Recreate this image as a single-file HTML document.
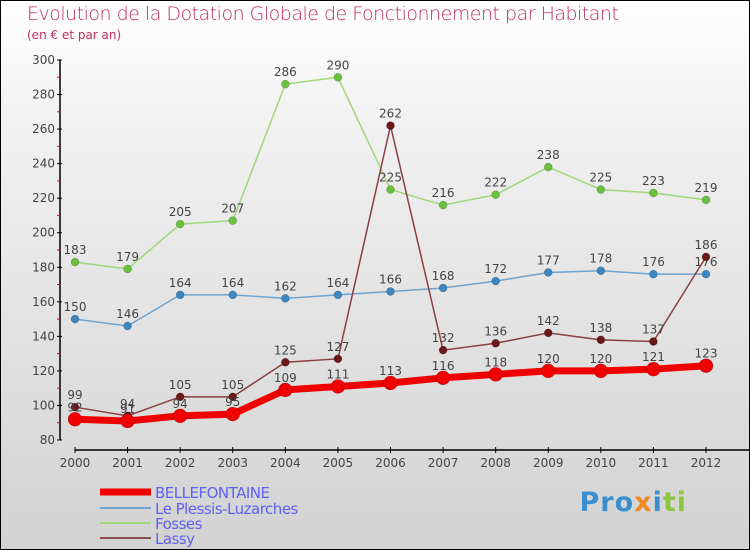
<!DOCTYPE html>
<html><head><meta charset="utf-8"><style>
body{margin:0}
#wrap{position:relative;width:750px;height:550px;box-sizing:border-box;border:1px solid #000;background:linear-gradient(#ffffff,#f2f2f2 20%,#d2d2d2);overflow:hidden;font-family:"DejaVu Sans","Liberation Sans",sans-serif}
.t{position:absolute;color:#c0305a}
</style></head><body>
<div id="wrap">
<div class="t" style="left:26px;top:2px;font-size:19px;letter-spacing:-0.5px;font-weight:200">Evolution de la Dotation Globale de Fonctionnement par Habitant</div>
<div class="t" style="left:26px;top:27px;font-size:12px">(en € et par an)</div>
<svg id="svg" width="750" height="550" style="position:absolute;left:-1px;top:-1px"></svg>
<div style="position:absolute;right:62px;top:486px;font-size:27px;font-weight:bold;letter-spacing:1px"><span style="color:#3a8fd0">Pro</span><span style="color:#f08a20">x</span><span style="color:#3a8fd0">i</span><span style="color:#8cc63f">ti</span></div>
</div>
<script>
const years=[2000,2001,2002,2003,2004,2005,2006,2007,2008,2009,2010,2011,2012];
const yTicks=[80,100,120,140,160,180,200,220,240,260,280,300];
const belle=[92,91,94,95,109,111,113,116,118,120,120,121,123];
const plessis=[150,146,164,164,162,164,166,168,172,177,178,176,176];
const fosses=[183,179,205,207,286,290,225,216,222,238,225,223,219];
const lassy=[99,94,105,105,125,127,262,132,136,142,138,137,186];
const svg=document.getElementById('svg');const NS='http://www.w3.org/2000/svg';
const X=i=>75+i*(706-75)/12;const Y=v=>440-(v-80)*(380/220);
function mk(t,a,p){const e=document.createElementNS(NS,t);for(const k in a)e.setAttribute(k,a[k]);(p||svg).appendChild(e);return e;}
let ax=mk('line',{x1:60,y1:60,x2:60,y2:440,stroke:'#000','stroke-width':1.5});


let xa=mk('line',{x1:75,y1:450,x2:750,y2:450,stroke:'#000','stroke-width':1.5});


yTicks.forEach(v=>{mk('line',{x1:57,x2:62,y1:Y(v),y2:Y(v),stroke:'#000'});if(v<300)mk('line',{x1:57,x2:60,y1:Y(v+10),y2:Y(v+10),stroke:'#f00'});
const t=mk('text',{x:55,y:Y(v)+4,'text-anchor':'end','font-size':12,fill:'#444'});t.textContent=v;

});
years.forEach((y,i)=>{mk('line',{x1:X(i),x2:X(i),y1:447,y2:453,stroke:'#000'});
const t=mk('text',{x:X(i),y:467,'text-anchor':'middle','font-size':12,fill:'#444'});t.textContent=y;

});
function series(d,col,dot,w,r,name){
const g=mk('g',{});


mk('polyline',{points:d.map((v,i)=>X(i)+','+Y(v)).join(' '),fill:'none',stroke:col,'stroke-width':w},g);
d.forEach((v,i)=>{const c=mk('circle',{cx:X(i),cy:Y(v),r:r,fill:dot,stroke:'rgba(0,0,0,0.3)','stroke-width':0.5},g);


const t=mk('text',{x:X(i),y:Y(v)-8,'text-anchor':'middle','font-size':12,fill:'#444'},g);t.textContent=v;});}
series(fosses,'#9ed87a','#6cc040',1.5,4,'series-fosses');
series(plessis,'#6fa4cf','#3d86c0',1.5,4,'series-plessis');
series(lassy,'#8a4040','#6a1818',1.5,4,'series-lassy');
series(belle,'#f00000','#f00000',7,7,'series-bellefontaine');
const leg=[['BELLEFONTAINE','#f00000',7],['Le Plessis-Luzarches','#6fa4cf',2],['Fosses','#9ed87a',2],['Lassy','#8a5050',2]];
const ly=[492,508,523,538];
leg.forEach((l,i)=>{const g=mk('g',{});


mk('line',{x1:100,x2:151,y1:ly[i],y2:ly[i],stroke:l[1],'stroke-width':l[2]},g);
const t=mk('text',{x:155,y:ly[i]+6,'font-size':15,fill:'#6060f0','letter-spacing':-0.5},g);t.textContent=l[0];});
</script>
</body></html>
